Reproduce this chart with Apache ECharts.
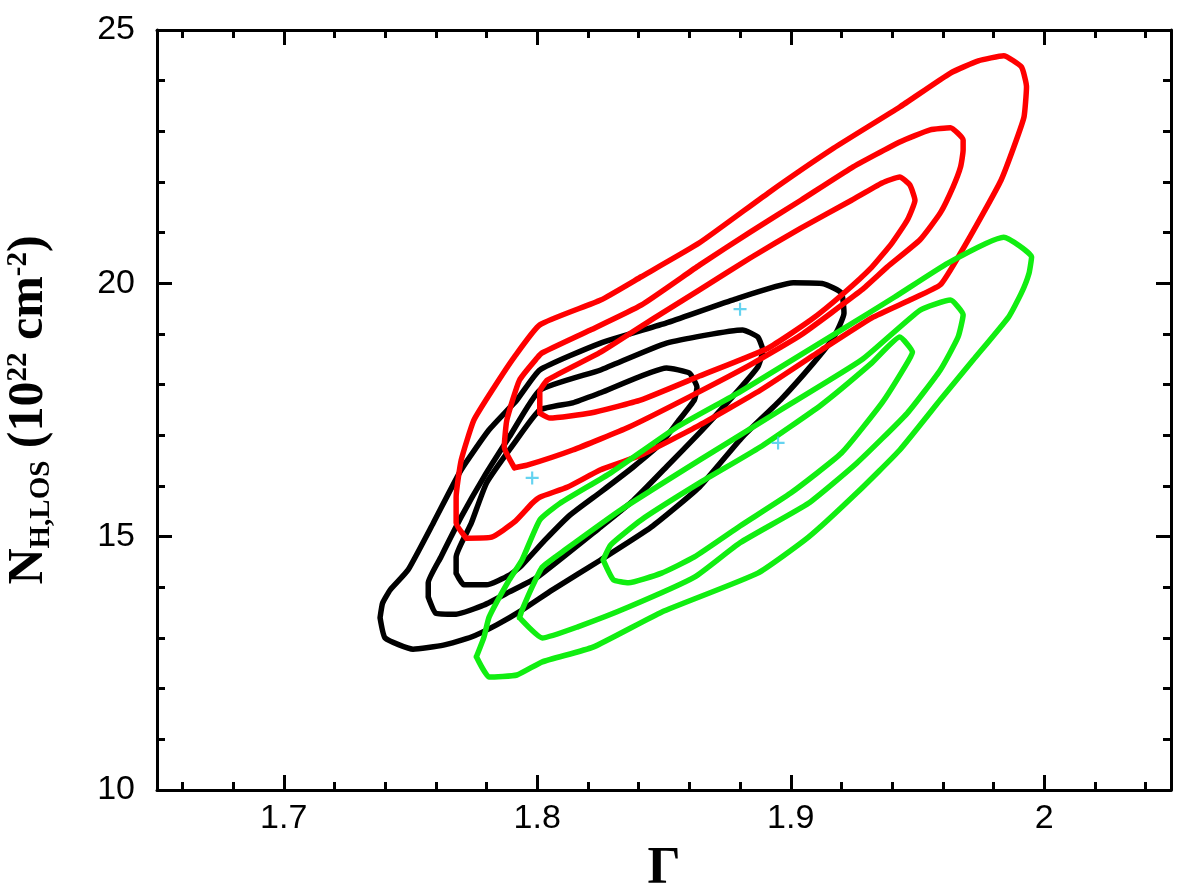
<!DOCTYPE html>
<html>
<head>
<meta charset="utf-8">
<title>N_H,LOS vs Gamma contours</title>
<script src="https://cdn.jsdelivr.net/npm/echarts@6/dist/echarts.min.js"></script>
<style>
    html, body { margin: 0; padding: 0; background: #fff; }
    #app { width: 1200px; height: 894px; }
</style>
</head>
<body>
<div id="app"></div>
<script>
// 刻度
const xTicks = [1.7, 1.8, 1.9, 2];
const xMinorTicks = [1.66, 1.68, 1.72, 1.74, 1.76, 1.78, 1.82, 1.84, 1.86, 1.88, 1.92, 1.94, 1.96, 1.98, 2.02, 2.04];
const yTicks = [10, 15, 20, 25];

// 黑色等高线 (Gamma, NH)
const blackInner = [[1.768,14.28],[1.768,14.60],[1.774,15.27],[1.780,16.06],[1.791,16.85],[1.801,17.50],[1.814,17.64],[1.825,17.84],[1.851,18.33],[1.860,18.23],[1.863,17.95],[1.862,17.70],[1.855,17.24],[1.849,16.85],[1.838,16.38],[1.825,15.88],[1.813,15.43],[1.803,14.93],[1.794,14.44],[1.789,14.24],[1.780,14.05],[1.771,14.05],[1.768,14.28]];
const blackMiddle = [[1.757,13.81],[1.757,14.09],[1.762,14.60],[1.770,15.39],[1.779,16.18],[1.789,16.97],[1.801,17.89],[1.825,18.29],[1.851,18.82],[1.881,19.08],[1.887,18.94],[1.889,18.68],[1.887,18.35],[1.877,17.76],[1.864,17.05],[1.851,16.38],[1.838,15.72],[1.825,15.19],[1.800,14.20],[1.789,13.91],[1.779,13.65],[1.768,13.47],[1.760,13.49],[1.757,13.81]];
const blackOuter = [[1.738,13.40],[1.740,13.00],[1.751,12.78],[1.763,12.86],[1.774,13.02],[1.784,13.26],[1.794,13.55],[1.806,13.95],[1.825,14.54],[1.845,15.19],[1.864,15.98],[1.881,16.97],[1.896,17.70],[1.909,18.43],[1.917,18.94],[1.921,19.41],[1.920,19.81],[1.913,19.99],[1.901,20.01],[1.877,19.67],[1.851,19.22],[1.825,18.82],[1.801,18.29],[1.792,17.70],[1.781,17.11],[1.770,16.32],[1.759,15.27],[1.749,14.34],[1.742,13.95],[1.739,13.69],[1.738,13.40]];

// 红色等高线
const redInner = [[1.801,17.44],[1.801,17.86],[1.804,18.09],[1.825,18.64],[1.845,19.28],[1.864,19.87],[1.884,20.50],[1.904,21.09],[1.924,21.64],[1.936,21.98],[1.943,22.10],[1.947,21.94],[1.949,21.64],[1.946,21.25],[1.940,20.80],[1.932,20.32],[1.921,19.81],[1.908,19.28],[1.891,18.72],[1.864,18.17],[1.841,17.70],[1.821,17.44],[1.805,17.34],[1.801,17.44]];
const redMiddle = [[1.791,16.36],[1.787,16.77],[1.788,17.30],[1.793,18.09],[1.800,18.53],[1.802,18.63],[1.821,19.08],[1.841,19.57],[1.864,20.36],[1.884,21.01],[1.904,21.64],[1.924,22.28],[1.943,22.79],[1.955,23.03],[1.963,23.07],[1.968,22.83],[1.968,22.63],[1.967,22.30],[1.964,21.90],[1.959,21.39],[1.951,20.86],[1.938,20.32],[1.928,19.87],[1.904,18.98],[1.884,18.39],[1.860,17.76],[1.836,17.16],[1.814,16.71],[1.796,16.41],[1.791,16.36]];
const redOuter = [[1.772,14.97],[1.768,15.27],[1.768,15.78],[1.770,16.51],[1.775,17.30],[1.783,17.95],[1.791,18.55],[1.801,19.18],[1.825,19.67],[1.841,20.13],[1.864,20.80],[1.891,21.78],[1.917,22.67],[1.943,23.48],[1.963,24.15],[1.974,24.39],[1.984,24.49],[1.991,24.27],[1.993,23.88],[1.992,23.28],[1.988,22.69],[1.983,22.04],[1.976,21.39],[1.967,20.60],[1.959,19.97],[1.947,19.67],[1.932,19.32],[1.912,18.68],[1.888,17.89],[1.864,17.20],[1.841,16.61],[1.825,16.32],[1.812,15.98],[1.801,15.78],[1.798,15.66],[1.791,15.29],[1.782,14.99],[1.772,14.97]];

// 绿色等高线
const greenInner = [[1.826,14.54],[1.829,14.84],[1.841,15.33],[1.864,16.06],[1.888,16.77],[1.912,17.60],[1.932,18.43],[1.943,18.94],[1.948,18.64],[1.945,18.35],[1.936,17.64],[1.920,16.65],[1.900,15.86],[1.880,15.21],[1.862,14.60],[1.849,14.28],[1.836,14.09],[1.830,14.15],[1.826,14.54]];
const greenMiddle = [[1.793,13.40],[1.794,13.55],[1.798,14.01],[1.802,14.40],[1.811,14.74],[1.833,15.53],[1.864,16.51],[1.896,17.50],[1.928,18.49],[1.951,19.47],[1.963,19.67],[1.968,19.38],[1.966,18.94],[1.959,18.29],[1.946,17.44],[1.926,16.45],[1.907,15.66],[1.880,14.88],[1.862,14.20],[1.836,13.61],[1.816,13.22],[1.802,13.00],[1.793,13.40]];
const greenOuter = [[1.776,12.63],[1.779,13.02],[1.781,13.41],[1.789,14.15],[1.794,14.54],[1.801,15.33],[1.809,15.66],[1.829,16.26],[1.855,17.16],[1.880,17.86],[1.920,19.08],[1.941,19.73],[1.962,20.40],[1.984,20.91],[1.995,20.52],[1.994,20.20],[1.991,19.81],[1.986,19.34],[1.972,18.49],[1.959,17.70],[1.943,16.71],[1.926,15.86],[1.907,14.99],[1.887,14.28],[1.849,13.51],[1.822,12.82],[1.802,12.53],[1.792,12.27],[1.781,12.23],[1.776,12.63]];

// 最佳拟合点
const bestFits = [[1.798,16.16],[1.880,19.49],[1.895,16.85]];

let contour = (data, color) => ({
    type: "line",
    data: data,
    showSymbol: false,
    smooth: 0.15,
    lineStyle: { color: color, width: 5.5, join: "round", cap: "round" },
    z: 3
});

let xAxisBase = (position, values, len, showLine, showLabel) => ({
    type: "value",
    position: position,
    min: 1.65,
    max: 2.05,
    axisLine: { show: showLine, onZero: false, lineStyle: { color: "#000", width: 3 } },
    axisTick: { show: true, inside: true, length: len, customValues: values, lineStyle: { color: "#000", width: 3 } },
    axisLabel: { show: showLabel, customValues: values, color: "#000", fontSize: 34, fontFamily: "Liberation Sans", margin: 12 },
    splitLine: { show: false }
});

let yAxisBase = (position, showLabel) => ({
    type: "value",
    position: position,
    min: 10,
    max: 25,
    interval: 5,
    axisLine: { show: true, onZero: false, lineStyle: { color: "#000", width: 3 } },
    axisTick: { show: true, inside: true, length: 15, lineStyle: { color: "#000", width: 3 } },
    minorTick: { show: true, splitNumber: 5, length: 8, lineStyle: { color: "#000", width: 3 } },
    axisLabel: { show: showLabel, color: "#000", fontSize: 34, fontFamily: "Liberation Sans", margin: 22 },
    splitLine: { show: false },
    minorSplitLine: { show: false }
});

let chart = echarts.init(document.querySelector("#app"));

let xBottom = xAxisBase("bottom", xTicks, 15, true, true);
xBottom.name = "Γ";
xBottom.nameLocation = "middle";
xBottom.nameGap = 54;
xBottom.nameTextStyle = { fontFamily: "Liberation Serif", fontWeight: "bold", fontSize: 52, color: "#000" };

let yLeft = yAxisBase("left", true);
yLeft.name = "{b|N}{s|H,LOS}{b| (10}{p|22}{b| cm}{p|-2}{b|)}";
yLeft.nameLocation = "middle";
yLeft.nameGap = 99;
yLeft.nameRotate = 90;
yLeft.nameTextStyle = {
    rich: {
        b: { fontFamily: "Liberation Serif", fontWeight: "bold", fontSize: 50, color: "#000", lineHeight: 58, verticalAlign: "middle" },
        s: { fontFamily: "Liberation Serif", fontWeight: "bold", fontSize: 29, color: "#000", lineHeight: 58, verticalAlign: "bottom", padding: [0, 0, 2, 0] },
        p: { fontFamily: "Liberation Serif", fontWeight: "bold", fontSize: 29, color: "#000", lineHeight: 58, verticalAlign: "top", padding: [4, 0, 0, 0] }
    }
};

chart.setOption({
    animation: false,
    backgroundColor: "#fff",
    grid: { left: 157, right: 29, top: 30, bottom: 104, containLabel: false, outerBoundsMode: "none" },
    xAxis: [
        xBottom,
        xAxisBase("bottom", xMinorTicks, 8, false, false),
        xAxisBase("top", xTicks, 15, true, false),
        xAxisBase("top", xMinorTicks, 8, false, false)
    ],
    yAxis: [
        yLeft,
        yAxisBase("right", false)
    ],
    series: [
        contour(blackOuter, "#000"),
        contour(blackMiddle, "#000"),
        contour(blackInner, "#000"),
        contour(redOuter, "#ff0000"),
        contour(redMiddle, "#ff0000"),
        contour(redInner, "#ff0000"),
        contour(greenOuter, "#11ee11"),
        contour(greenMiddle, "#11ee11"),
        contour(greenInner, "#11ee11"),
        {
            type: "scatter",
            data: bestFits,
            symbol: "path://M5,0 h2 v5 h5 v2 h-5 v5 h-2 v-5 h-5 v-2 h5 z",
            symbolSize: 13,
            itemStyle: { color: "#3ec8ec" },
            z: 5
        }
    ]
});
</script>
</body>
</html>
